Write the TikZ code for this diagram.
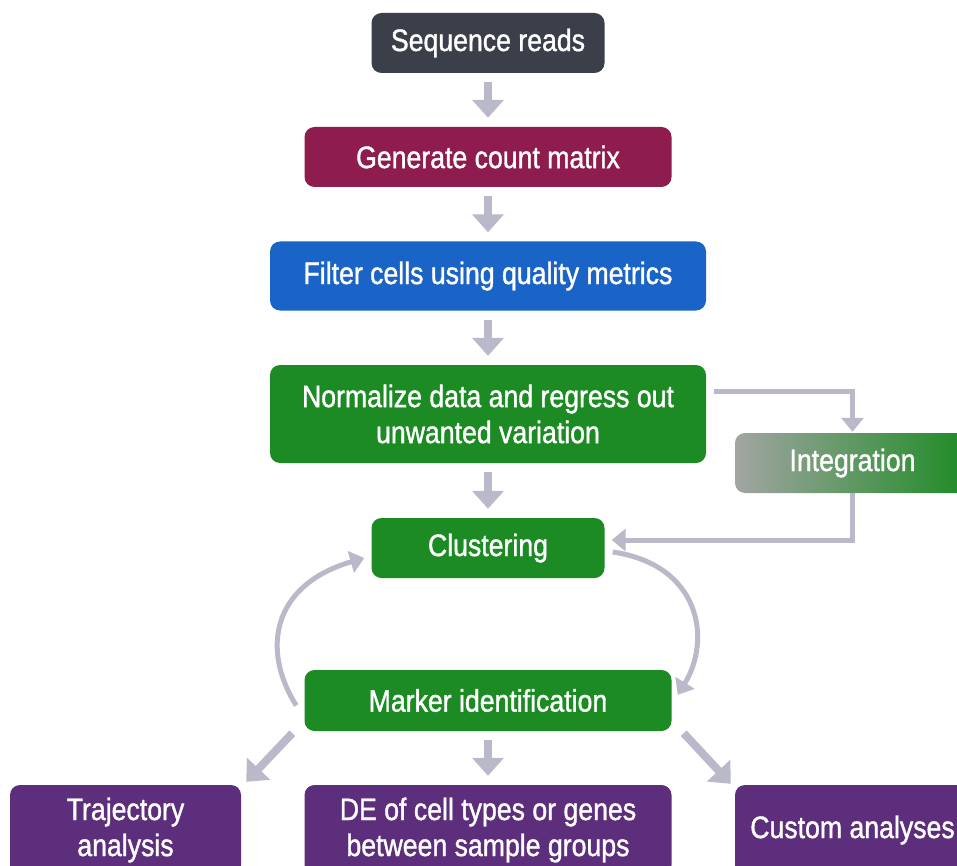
\documentclass[tikz,border=0pt]{standalone}
\usepackage{fontspec}
\setmainfont{Liberation Sans}[FakeStretch=0.86,FakeBold=1.2]
\usepackage{tikz}
\usetikzlibrary{arrows.meta}
\usetikzlibrary{calc}
\definecolor{slate}{HTML}{3B3F4A}
\definecolor{wine}{HTML}{8F1C4E}
\definecolor{azure}{HTML}{1A64C8}
\definecolor{leaf}{HTML}{1C8B24}
\definecolor{grape}{HTML}{5D2E7C}
\definecolor{fog}{HTML}{A2A5A2}
\definecolor{arrowgray}{HTML}{B9B9C9}
\begin{document}
\begin{tikzpicture}[x=1pt, y=-1pt, box/.style={rectangle, rounded corners=10pt, text=white, align=center, inner sep=0pt, font=\fontsize{31}{36}\selectfont}, flow/.style={draw=arrowgray, line width=8pt, -{Triangle[width=31pt,length=18pt]}, shorten <=9pt, shorten >=9pt}, link/.style={draw=arrowgray, line width=5pt, -{Triangle[width=22pt,length=14pt]}}]
\useasboundingbox (0,0) rectangle (957,866);
\node [box, fill=slate, minimum width=233pt, minimum height=60pt] (seq) at (488,43) {Sequence reads};
\node [box, fill=wine, minimum width=367pt, minimum height=60pt] (count) at (488,157) {Generate count matrix};
\node [box, fill=azure, minimum width=436pt, minimum height=69pt] (filter) at (488,276) {Filter cells using quality metrics};
\node [box, fill=leaf, minimum width=436pt, minimum height=98pt] (norm) at (488,414) {Normalize data and regress out\\unwanted variation};
\node [box, left color=fog, right color=leaf, minimum width=235pt, minimum height=60pt] (integ) at (852.5,463) {Integration};
\node [box, fill=leaf, minimum width=233pt, minimum height=60pt] (clust) at (488,548) {Clustering};
\node [box, fill=leaf, minimum width=367pt, minimum height=61pt] (marker) at (488,700.5) {Marker identification};
\node [box, fill=grape, minimum width=231pt, minimum height=90pt] (traj) at (125.5,830) {Trajectory\\analysis};
\node [box, fill=grape, minimum width=367pt, minimum height=90pt] (de) at (488,830) {DE of cell types or genes\\between sample groups};
\node [box, fill=grape, minimum width=235pt, minimum height=90pt] (custom) at (852.5,830) {Custom analyses};
\draw [flow] (seq) -- (count);
\draw [flow] (count) -- (filter);
\draw [flow] (filter) -- (norm);
\draw [flow] (norm) -- (clust);
\draw [flow] (marker) -- (de);
\draw [link, shorten >=1pt] ($(norm.east)+(8,-23)$) -| (integ.north);
\draw [link] (integ.south) |- ($(clust.east)+(7,-8)$);
\draw [link] ($(clust.east)+(8,4)$) .. controls +(88,13) and +(34,-55) .. ($(marker.north east)+(6,25)$);
\draw [link] ($(marker.west)+(-8,5)$) .. controls +(-35,-55) and +(-93,27) .. ($(clust.west)+(-7,10)$);
\draw [flow, shorten <=0pt, shorten >=0pt] ($(marker.south west)+(-12,2)$) -- ($(traj.north east)+(5,-3)$);
\draw [flow, shorten <=0pt, shorten >=0pt] ($(marker.south east)+(12,2)$) -- ($(custom.north west)+(-4,-1)$);
\end{tikzpicture}
\end{document}
